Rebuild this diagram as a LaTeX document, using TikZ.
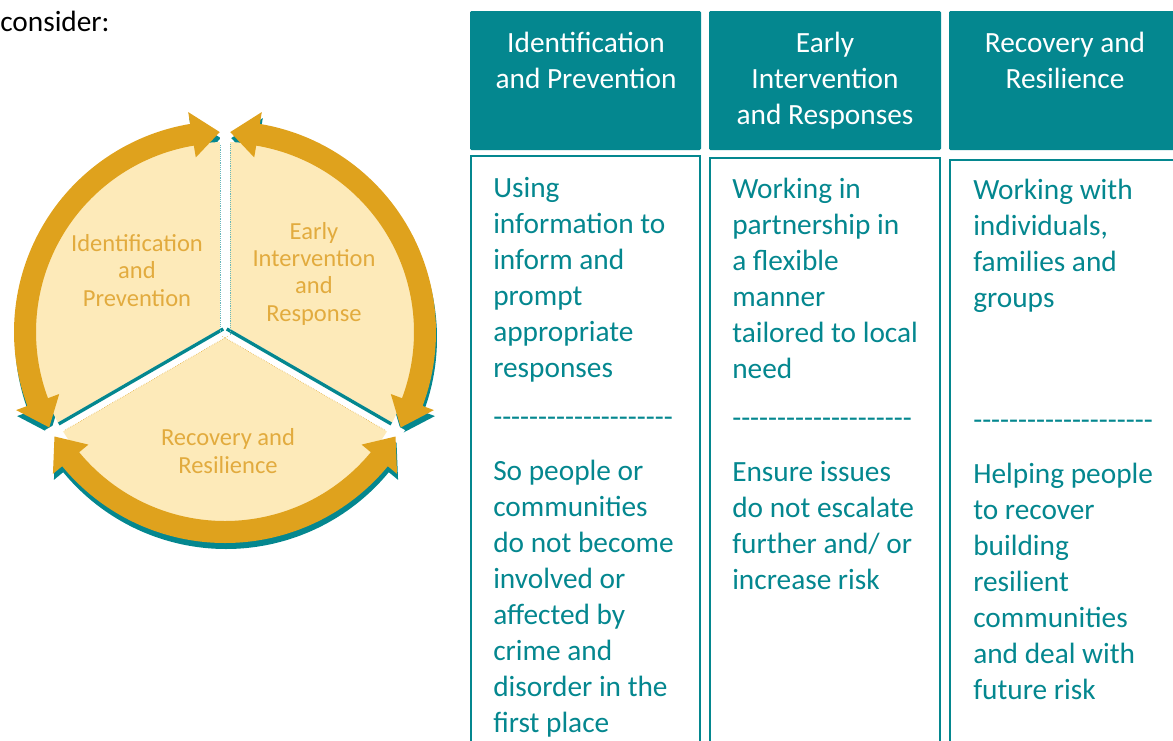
\documentclass[tikz,border=0pt]{standalone}
\usepackage{fontspec}
\setmainfont{Carlito}
\definecolor{teal1}{HTML}{04878F}
\definecolor{gold1}{HTML}{DFA21D}
\definecolor{pale1}{HTML}{FDEAB9}
\definecolor{goldtxt}{HTML}{E2AB3E}
% one double-headed arrow of the ring, from angle #2 down to angle #3
\newcommand\ringarrow[3]{%
  \fill[#1] ({#2-1.5}:200) -- ({#2-9.5}:223) -- ({#2-9.5}:211)
    arc[start angle={#2-9.5}, end angle={#3+9.5}, radius=158.25pt]
    -- ({#3+9.5}:223) -- ({#3+1.5}:200) -- ({#3+9.5}:177) -- ({#3+9.5}:189)
    arc[start angle={#3+9.5}, end angle={#2-9.5}, radius=141.75pt]
    -- ({#2-9.5}:177) -- cycle;}
\begin{document}
\begin{tikzpicture}[x=0.75pt, y=0.75pt,
    hd/.style={anchor=base, align=center, text=white, inner sep=0, font=\fontsize{22}{27}\selectfont},
    bt/.style={anchor=base west, align=left, text=teal1, inner sep=0, font=\fontsize{22}{27}\selectfont},
    lbl/.style={anchor=base, align=center, text=goldtxt, inner sep=0, font=\fontsize{18.4}{20.3}\selectfont},
    bx/.style={draw=teal1, line width=2.2pt}]
    \useasboundingbox (0,0) rectangle (1173,-740);

    \node[anchor=base west, inner sep=0, font=\fontsize{22}{27}\selectfont] (lead) at (0,-31) {consider:};

    % ring
    \begin{scope}[shift={(225,-332)}]
        \ringarrow{teal1, shift={(1,-6)}}{210}{90}
        \ringarrow{teal1, shift={(1,-6)}}{90}{-30}
        \ringarrow{teal1, shift={(1,-6)}}{-30}{-150}
        \fill[pale1] (0,0) circle[radius=142.5pt];
        \foreach \a in {90,210,330}
            \draw[white, line width=7.5pt] (0,0) -- (\a:205);
        \draw[teal1, line width=2.5pt, shift={(120:3.5)}] (0,0) -- (210:190);
        \draw[teal1, line width=2.5pt, shift={(60:3.5)}] (0,0) -- (330:190);
        \draw[gold1, densely dotted, shift={(300:5)}] (0,0) -- (210:188);
        \draw[gold1, densely dotted, shift={(240:5)}] (0,0) -- (330:188);
        \draw[teal1!60, densely dotted] (-5,0) -- (-5,188);
        \draw[teal1!60, densely dotted] (5,-3) -- (5,188);
        \ringarrow{gold1}{210}{90}
        \ringarrow{gold1}{90}{-30}
        \ringarrow{gold1}{-30}{-150}
    \end{scope}
    % base anchor is the last line of each label
    \node[lbl] (c1) at (137,-306) {Identification\\and\\Prevention};
    \node[lbl] (c2) at (314,-321) {Early\\Intervention\\and\\Response};
    \node[lbl] (c3) at (228,-473) {Recovery and\\Resilience};

    % headers
    \fill[teal1, rounded corners=1pt] (470,-11) rectangle (701,-150);
    \fill[teal1, rounded corners=1pt] (709,-11) rectangle (941,-150);
    \fill[teal1, rounded corners=1pt] (949,-11) rectangle (1190,-150);
    \node[hd] (h1) at (586,-88) {Identification\\and Prevention};
    \node[hd] (h2) at (825,-124) {Early\\Intervention\\and Responses};
    \node[hd] (h3) at (1065,-88) {Recovery and\\Resilience};

    % columns
    \draw[bx] (471,-156) rectangle (700,-760);
    \draw[bx] (710,-158) rectangle (940,-760);
    \draw[bx] (950,-160) rectangle (1190,-760);

    \node[bt] (t1) at (493,-377) {Using\\information to\\inform and\\prompt\\appropriate\\responses};
    \node[bt] (d1) at (493,-426) {-{}-{}-{}-{}-{}-{}-{}-{}-{}-{}-{}-{}-{}-{}-{}-{}-{}-{}-{}-};
    \node[bt] (b1) at (493,-732) {So people or\\communities\\do not become\\involved or\\affected by\\crime and\\disorder in the\\first place};

    \node[bt] (t2) at (732,-378) {Working in\\partnership in\\a flexible\\manner\\tailored to local\\need};
    \node[bt] (d2) at (732,-427) {-{}-{}-{}-{}-{}-{}-{}-{}-{}-{}-{}-{}-{}-{}-{}-{}-{}-{}-{}-};
    \node[bt] (b2) at (732,-589) {Ensure issues\\do not escalate\\further and/ or\\increase risk};

    \node[bt] (t3) at (973,-307) {Working with\\individuals,\\families and\\groups};
    \node[bt] (d3) at (973,-429) {-{}-{}-{}-{}-{}-{}-{}-{}-{}-{}-{}-{}-{}-{}-{}-{}-{}-{}-{}-};
    \node[bt] (b3) at (973,-699) {Helping people\\to recover\\building\\resilient\\communities\\and deal with\\future risk};
\end{tikzpicture}
\end{document}
